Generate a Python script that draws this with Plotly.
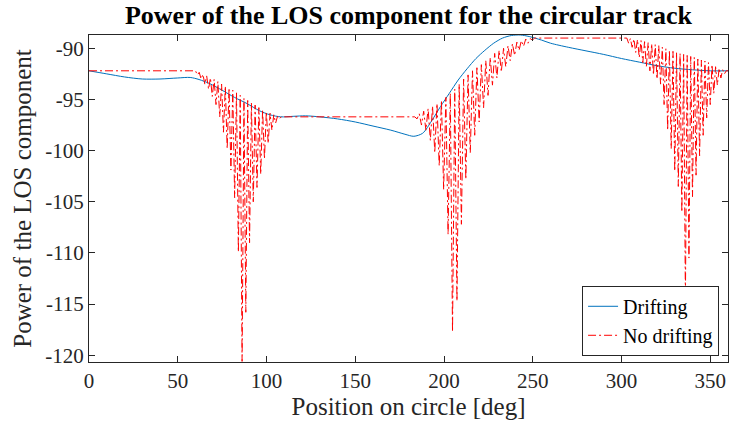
import plotly.graph_objects as go

# LOS power [dB] along the circular track, with drifting
drift_pos = [0, 10, 20, 30, 40, 50, 57, 62, 68, 75, 82, 89, 96, 102, 108, 115, 122, 130,
             140, 150, 160, 170, 178, 183, 188, 193, 198, 203, 208, 213, 218, 223, 228,
             233, 238, 243, 248, 255, 260, 270, 280, 290, 300, 310, 320, 330, 340, 350, 360]
drift_pow = [-92.2, -92.5, -92.8, -93.0, -93.0, -92.9, -92.85, -93.05, -93.45, -94.1, -94.8,
             -95.4, -96.1, -96.5, -96.7, -96.65, -96.6, -96.7, -96.9, -97.2, -97.6, -98.0,
             -98.4, -98.6, -98.3, -97.1, -95.7, -94.4, -93.1, -92.0, -91.0, -90.2, -89.5,
             -89.0, -88.75, -88.7, -88.85, -89.2, -89.5, -89.9, -90.25, -90.6, -91.0, -91.35,
             -91.7, -91.95, -92.1, -92.2, -92.2]

# Without drifting: local maxima (and ends of the flat stretches) ...
nodrift_peak_pos = [0,
                    60.0, 62.1, 64.2, 66.3, 68.4, 70.5, 72.6, 74.7, 76.8, 78.9, 81.0, 83.1,
                    85.2, 87.3, 89.4, 91.5, 93.6, 95.7, 97.8, 99.9, 102.0, 104.1, 106.2, 108.3,
                    183.55, 186.05, 188.55, 191.05, 193.55, 196.05, 198.55, 201.05, 203.55,
                    206.05, 208.55, 211.05, 213.55, 216.05, 218.55, 221.05, 223.55, 226.05,
                    228.55, 231.05, 233.55, 236.05, 238.55, 241.05, 243.55, 246.05, 248.55,
                    251.05,
                    303, 305, 307, 309, 311, 313, 315, 317, 319, 321, 323, 325, 327, 329, 331,
                    333, 335, 337, 339, 341, 343, 345, 347, 349, 351, 353, 355, 357, 359, 360]
nodrift_peak_pow = [-92.2,
                    -92.2, -92.35, -92.55, -92.7, -92.9, -93.05, -93.25, -93.5, -93.7, -93.9,
                    -94.1, -94.35, -94.6, -94.9, -95.1, -95.35, -95.55, -95.8, -96.0, -96.2,
                    -96.35, -96.5, -96.65, -96.7,
                    -96.7, -96.4, -96.15, -95.9, -95.65, -95.4, -95.1, -94.8, -94.4, -94.0,
                    -93.5, -93.0, -92.6, -92.2, -91.9, -91.6, -91.2, -90.9, -90.5, -90.2,
                    -90.0, -89.75, -89.55, -89.4, -89.25, -89.1, -89.05, -89.0,
                    -89.0, -89.05, -89.1, -89.15, -89.25, -89.35, -89.45, -89.55, -89.65,
                    -89.75, -89.9, -90.05, -90.2, -90.3, -90.4, -90.5, -90.6, -90.7, -90.8,
                    -90.9, -91.05, -91.15, -91.25, -91.4, -91.6, -91.8, -91.95, -92.1, -92.2,
                    -92.2]

# ... and the interference nulls between them
nodrift_null_pos = [61.05, 63.15, 65.25, 67.35, 69.45, 71.55, 73.65, 75.75, 77.85, 79.95,
                    82.05, 84.15, 86.25, 88.35, 90.45, 92.55, 94.65, 96.75, 98.85, 100.95,
                    103.05, 105.15, 107.25,
                    184.8, 187.3, 189.8, 192.3, 194.8, 197.3, 199.8, 202.3, 204.8, 207.3,
                    209.8, 212.3, 214.8, 217.3, 219.8, 222.3, 224.8, 227.3, 229.8, 232.3,
                    234.8, 237.3, 239.8, 242.3, 244.8, 247.3, 249.8,
                    304, 306, 308, 310, 312, 314, 316, 318, 320, 322, 324, 326, 328, 330, 332,
                    334, 336, 338, 340, 342, 344, 346, 348, 350, 352, 354, 356, 358]
nodrift_null_pow = [-92.6, -93.0, -93.5, -94.0, -94.7, -95.5, -96.7, -98.2, -99.8, -101.9,
                    -104.6, -109.9, -120.6, -115.8, -109.0, -105.0, -103.6, -102.3, -100.8,
                    -99.3, -98.0, -97.3, -96.9,
                    -96.9, -97.5, -98.0, -99.0, -100.2, -101.5, -103.8, -108.2, -117.7, -114.7,
                    -107.2, -102.8, -100.2, -98.5, -97.2, -95.8, -94.6, -93.6, -92.9, -92.3,
                    -91.8, -91.2, -90.7, -90.2, -89.8, -89.5, -89.2,
                    -89.5, -89.9, -90.4, -90.9, -91.4, -91.8, -92.2, -92.6, -93.0, -93.5,
                    -95.5, -98.0, -99.8, -102.0, -103.5, -106.0, -114.6, -110.5, -104.5,
                    -102.4, -100.5, -98.5, -96.8, -95.5, -94.4, -93.6, -92.9, -92.5]

x_ticks = [0, 50, 100, 150, 200, 250, 300, 350]
y_ticks = [-120, -115, -110, -105, -100, -95, -90]
y_tick_labels = ["-120", "-115", "-110", "-105", "-100", "-95", "-90"]

# merge maxima and nulls into one trace ordered by position
merged = sorted(zip(nodrift_peak_pos + nodrift_null_pos, nodrift_peak_pow + nodrift_null_pow))
nd_pos = [p for p, _ in merged]
nd_pow = [v for _, v in merged]

SERIF = "Liberation Serif"
AX = "#262626"

fig = go.Figure()
fig.add_trace(go.Scatter(x=drift_pos, y=drift_pow, mode="lines", name="Drifting",
                         line=dict(color="#0072BD", width=1, shape="spline", smoothing=0.8)))
fig.add_trace(go.Scatter(x=nd_pos, y=nd_pow, mode="lines", name="No drifting",
                         line=dict(color="#FF0000", width=1, dash="8px,3px,2px,3px")))

axis_common = dict(showline=True, linecolor=AX, linewidth=1, mirror="ticks",
                   ticks="inside", ticklen=6, tickcolor=AX, showgrid=False, zeroline=False,
                   tickfont=dict(family=SERIF, size=21, color=AX))

fig.update_layout(
    width=730, height=425,
    margin=dict(l=89, r=2, t=35, b=63),
    paper_bgcolor="white", plot_bgcolor="white",
    font=dict(family=SERIF, color=AX),
    title=dict(text="<b>Power of the LOS component for the circular track</b>",
               font=dict(family=SERIF, size=26, color="black"),
               x=0.5, xref="paper", xanchor="center",
               y=1 - 15 / 425, yref="container", yanchor="middle"),
    xaxis=dict(range=[0, 360], tickvals=x_ticks,
               title=dict(text="Position on circle [deg]", standoff=4,
                          font=dict(family=SERIF, size=25, color=AX)),
               **axis_common),
    yaxis=dict(range=[-120.66, -88.7], tickvals=y_ticks, ticktext=y_tick_labels,
               title=dict(text="Power of the LOS component", standoff=6,
                          font=dict(family=SERIF, size=25, color=AX)),
               **axis_common),
    legend=dict(x=0.986, y=0.019, xanchor="right", yanchor="bottom",
                bgcolor="white", bordercolor=AX, borderwidth=1,
                font=dict(family=SERIF, size=20, color="black"),
                tracegroupgap=0),
    showlegend=True,
)

fig.write_html("out.html")
